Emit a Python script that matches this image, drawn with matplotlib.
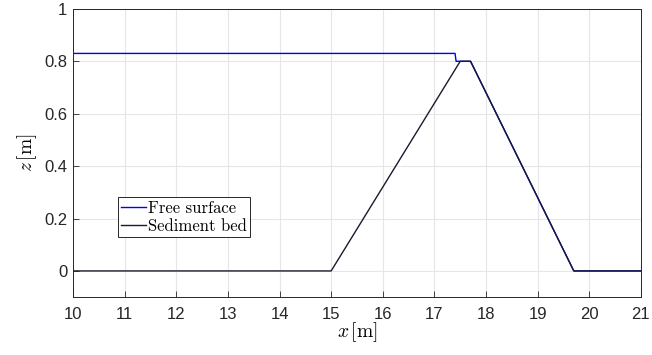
import numpy as np
import matplotlib
matplotlib.use("Agg")
import matplotlib.pyplot as plt

plt.rcParams['mathtext.fontset'] = 'cm'
plt.rcParams['axes.unicode_minus'] = False

# data
bed_x = [10, 15, 17.5, 17.7, 19.7, 21]
bed_z = [0, 0, 0.8, 0.8, 0, 0]
surf_x = [10, 17.4, 17.42, 17.7, 19.7, 21]
surf_z = [0.83, 0.83, 0.8, 0.8, 0, 0]

xticks = np.arange(10, 22, 1)
yticks = [0, 0.2, 0.4, 0.6, 0.8, 1]

fig = plt.figure(figsize=(6.52, 3.55), dpi=100)
ax = fig.add_axes([0.112, 0.163, 0.871, 0.812])

ax.plot(surf_x, surf_z, color='#0000ff', lw=1.0, label='Free surface')
ax.plot(bed_x, bed_z, color='#1a1a2e', lw=1.0, label='Sediment bed')

ax.set_xlim(10, 21)
ax.set_ylim(-0.1, 1)
ax.set_xticks(xticks)
ax.set_yticks(yticks)
ax.set_yticklabels(['0', '0.2', '0.4', '0.6', '0.8', '1'])
ax.tick_params(direction='in', length=4, width=0.6, labelsize=12, colors='#262626',
               top=False, right=False)
ax.tick_params(axis='x', pad=7)
ax.tick_params(axis='y', pad=4)
for lab in ax.get_xticklabels() + ax.get_yticklabels():
    lab.set_family('Liberation Sans')
ax.grid(True, color='#e6e6e6', lw=0.8)
ax.set_axisbelow(True)
for sp in ax.spines.values():
    sp.set_linewidth(0.7)
    sp.set_color('#262626')

ax.set_xlabel(r'$x\,[\mathrm{m}]$', fontsize=14, labelpad=-1)
ax.set_ylabel(r'$z\,[\mathrm{m}]$', fontsize=14, labelpad=4)

leg = ax.legend(loc='upper left', bbox_to_anchor=(0.079, 0.347), fancybox=False,
                edgecolor='#262626', framealpha=1, handlelength=1.5, handletextpad=0.1,
                borderpad=0.2, labelspacing=0.15, borderaxespad=0,
                prop={'family': 'cmr10', 'size': 12})
leg.get_frame().set_linewidth(0.7)

fig.savefig('out.png', dpi=100)
